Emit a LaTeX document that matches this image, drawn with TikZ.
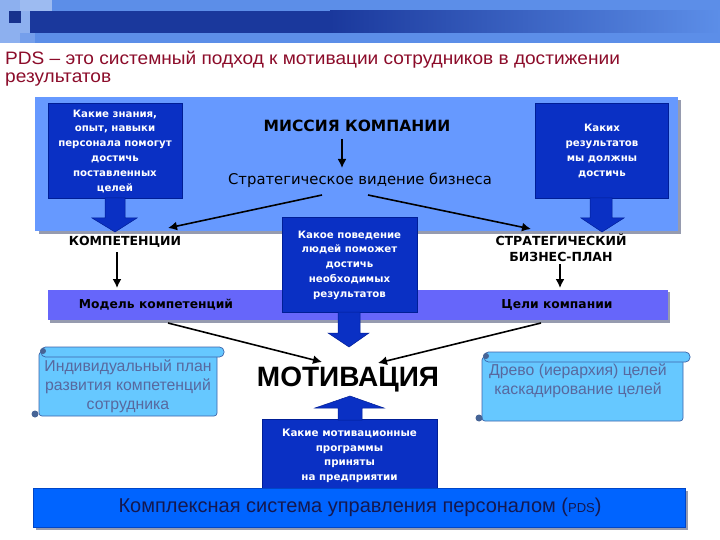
\documentclass[tikz,border=0pt]{standalone}
\usepackage{fontspec}
\setmainfont{DejaVu Sans}
\newfontfamily\arial{Liberation Sans}
\newfontfamily\arialwide[FakeStretch=1.06]{Liberation Sans}
\usetikzlibrary{arrows.meta}
\definecolor{bannerlt}{RGB}{92,142,232}
\definecolor{bannerdk}{RGB}{26,56,156}
\definecolor{titlered}{RGB}{140,12,42}
\definecolor{bigblue}{RGB}{102,153,255}
\definecolor{darkbox}{RGB}{10,48,196}
\definecolor{darkedge}{RGB}{0,30,150}
\definecolor{barblue}{RGB}{102,102,250}
\definecolor{scrollfill}{RGB}{102,200,255}
\definecolor{scrolledge}{RGB}{60,100,170}
\definecolor{scrolldot}{RGB}{70,100,150}
\definecolor{scrolltext}{RGB}{88,104,158}
\definecolor{botblue}{RGB}{0,100,255}
\definecolor{botedge}{RGB}{0,70,200}
\definecolor{bottext}{RGB}{20,24,80}
\definecolor{shadowgray}{RGB}{150,155,175}
\tikzset{
  darkboxst/.style={fill=darkbox, draw=darkedge, line width=0.6pt},
  boxtext/.style={text=white, font=\bfseries\fontsize{10.2}{14.8}\selectfont, align=center, inner sep=0pt},
  blockarrow/.style={fill=darkbox, draw=darkedge, line width=0.5pt},
  thinarrow/.style={draw=black, line width=1.6pt, -{Latex[length=9pt,width=9pt]}},
  labelbold/.style={font=\bfseries\fontsize{12.5}{16}\selectfont, align=center, inner sep=0pt},
  barst/.style={fill=barblue},
  scrollst/.style={fill=scrollfill, draw=scrolledge, line width=0.7pt},
  scrolltxt/.style={text=scrolltext, font=\arial\fontsize{15.8}{19}\selectfont, align=center, inner sep=0pt},
}
\begin{document}
\begin{tikzpicture}[x=1pt, y=-1pt]
\useasboundingbox (0,0) rectangle (720,540);
\fill[white] (0,0) rectangle (720,540);
% banner
\fill[bannerlt] (0,0) rectangle (720,43);
\fill[bannerdk] (30,11) rectangle (330,33);
\shade[left color=bannerdk, right color=bannerlt] (330,11) rectangle (720,33);
\fill[bannerlt!70!white] (0,0) rectangle (30,43);
\fill[bannerlt!60!white] (20,0) rectangle (52,11);
\fill[bannerlt!85!white] (20,33) rectangle (35,43);
\fill[bannerdk!90!black] (9,11) rectangle (21,23);
% title
\node[anchor=north west, inner sep=0pt, align=left, text=titlered, font=\arialwide\fontsize{18}{18}\selectfont] (title) at (5,51)
  {PDS – это системный подход к мотивации сотрудников в достижении\\результатов};
% big blue panel
\fill[shadowgray] (39,100) rectangle (681,234);
\fill[bigblue] (35,97) rectangle (678,231);
% bar
\fill[shadowgray] (50,292) rectangle (670,323);
\fill[barst] (48,290) rectangle (668,320);
% dark boxes
\node[darkboxst, minimum width=134pt, minimum height=95pt, inner sep=0pt] (kbox) at (115,150.5) {};
\node[boxtext] (ktxt) at (115,151) {Какие знания,\\опыт, навыки\\персонала помогут\\достичь\\поставленных\\целей};
\node[darkboxst, minimum width=133pt, minimum height=95pt, inner sep=0pt] (rbox) at (601.5,150.5) {};
\node[boxtext] (rtxt) at (602,151) {Каких\\результатов\\мы должны\\достичь};
% block arrows top
\draw[blockarrow] (105,198) -- (125,198) -- (125,218) -- (137,218) -- (115,232) -- (92,218) -- (105,218) -- cycle;
\draw[blockarrow] (590,198) -- (612,198) -- (612,218) -- (624,218) -- (602,232) -- (581,218) -- (590,218) -- cycle;
% mission
\node[font=\bfseries\fontsize{15.5}{18}\selectfont, inner sep=0pt] (mission) at (357,126) {МИССИЯ КОМПАНИИ};
\node[font=\fontsize{14.8}{16}\selectfont, inner sep=0pt] (vision) at (360,180) {Стратегическое видение бизнеса};
\coordinate (m1) at (342,139);
\coordinate (m2) at (342,168);
\draw[thinarrow] (m1) -- (m2);
% competence labels
\node[labelbold] (komp) at (125,242) {КОМПЕТЕНЦИИ};
\node[labelbold] (splan) at (561,248) {СТРАТЕГИЧЕСКИЙ\\БИЗНЕС-ПЛАН};
\coordinate (v1) at (322,195);
\coordinate (v2) at (368,195);
\coordinate (k1) at (168,228);
\coordinate (s1) at (531,229);
\draw[thinarrow] (v1) -- (k1);
\draw[thinarrow] (v2) -- (s1);
\coordinate (ka) at (117,252);
\coordinate (kb) at (117,288);
\draw[thinarrow] (ka) -- (kb);
\coordinate (sa) at (560,264);
\coordinate (sb) at (560,288);
\draw[thinarrow] (sa) -- (sb);
\node[font=\bfseries\fontsize{12.3}{14}\selectfont, inner sep=0pt] (model) at (156,305) {Модель компетенций};
\node[font=\bfseries\fontsize{12.3}{14}\selectfont, inner sep=0pt] (goals) at (557,305) {Цели компании};
% middle box
\node[darkboxst, minimum width=135pt, minimum height=95pt, inner sep=0pt] (mbox) at (349.5,264.5) {};
\node[boxtext] (mtxt) at (349.5,265) {Какое поведение\\людей поможет\\достичь\\необходимых\\результатов};
\draw[blockarrow] (338,312) -- (360,312) -- (360,333) -- (369,333) -- (349,347) -- (328,333) -- (338,333) -- cycle;
% motivation
\node[font=\arial\bfseries\fontsize{28}{30}\selectfont, inner sep=0pt] (motiv) at (348,380) {МОТИВАЦИЯ};
\coordinate (c1) at (168,323);
\coordinate (c2) at (322,362);
\draw[thinarrow] (c1) -- (c2);
\coordinate (g1) at (541,323);
\coordinate (g2) at (378,363);
\draw[thinarrow] (g1) -- (g2);
% bottom dark box
\node[darkboxst, minimum width=175pt, minimum height=72pt, inner sep=0pt] (bbox) at (349.5,455) {};
\node[boxtext, font=\bfseries\fontsize{10.3}{14.5}\selectfont] (btxt) at (349.5,456) {Какие мотивационные\\программы\\приняты\\на предприятии};
\draw[blockarrow] (338,420) -- (362,420) -- (362,408) -- (384,408) -- (350,396) -- (315,408) -- (338,408) -- cycle;
% scrolls
\draw[scrollst, rounded corners=3] (39,352) rectangle (217,416);
\draw[scrollst, rounded corners=4.5] (41,347) rectangle (224,357);
\fill[scrolldot] (43,351) circle (3);
\fill[scrolldot] (35,414) circle (3.5);
\node[scrolltxt] (indiv) at (128,386) {Индивидуальный план\\развития компетенций\\сотрудника};
\draw[scrollst, rounded corners=3] (482,357) rectangle (683,421);
\draw[scrollst, rounded corners=4.5] (484,352) rectangle (690,362);
\fill[scrolldot] (486,356) circle (3);
\fill[scrolldot] (479,418) circle (3.5);
\node[scrolltxt] (tree) at (578,381) {Древо (иерархия) целей\\каскадирование целей};
% bottom bar
\fill[shadowgray] (36,491) rectangle (688,530);
\draw[fill=botblue, draw=botedge, line width=0.6pt] (33,488) rectangle (685,527);
\node[text=bottext, font=\arial\fontsize{20}{22}\selectfont, inner sep=0pt] (pds) at (360,507) {Комплексная система управления персоналом ({\fontsize{13}{14}\selectfont PDS})};
\end{tikzpicture}
\end{document}
